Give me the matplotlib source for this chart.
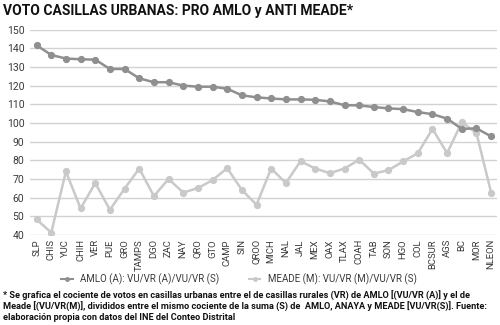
import matplotlib
matplotlib.use("Agg")
import matplotlib.pyplot as plt
from matplotlib.lines import Line2D

states = ["SLP", "CHIS", "YUC", "CHIH", "VER", "PUE", "GRO", "TAMPS", "DGO", "ZAC",
          "NAY", "QRO", "GTO", "CAMP", "SIN", "QROO", "MICH", "NAL", "JAL", "MEX",
          "OAX", "TLAX", "COAH", "TAB", "SON", "HGO", "COL", "BCSUR", "AGS", "BC",
          "MOR", "NLEON"]

amlo = [141.6, 136.4, 134.5, 134.1, 133.9, 128.9, 128.9, 123.9, 121.8, 121.8,
        120.0, 119.4, 119.4, 118.3, 114.8, 113.7, 113.1, 112.6, 112.6, 112.4,
        111.5, 109.5, 109.4, 108.5, 107.8, 107.4, 105.8, 104.7, 102.3, 96.8,
        97.1, 92.8]
meade = [48.3, 41.3, 74.0, 54.2, 67.8, 53.5, 64.8, 75.6, 60.8, 70.0,
         62.7, 65.1, 69.4, 75.8, 64.1, 56.2, 75.6, 67.8, 79.5, 75.6,
         73.1, 75.6, 80.3, 72.9, 74.7, 79.4, 83.8, 96.8, 83.8, 100.4,
         94.5, 62.7]

yticks = [40, 50, 60, 70, 80, 90, 100, 110, 120, 130, 140, 150]

title = "VOTO CASILLAS URBANAS: PRO AMLO y ANTI MEADE*"
label_amlo = "AMLO (A): VU/VR (A)/VU/VR (S)"
label_meade = "MEADE (M): VU/VR (M)/VU/VR (S)"
footnote = ("* Se grafica el cociente de votos en casillas urbanas entre el de casillas rurales (VR) de AMLO [(VU/VR (A)] y el de\n"
            "Meade [(VU/VR(M)], divididos entre el mismo cociente de la suma (S) de  AMLO, ANAYA y MEADE [VU/VR(S)]. Fuente:\n"
            "elaboración propia con datos del INE del Conteo Distrital")

plt.rcParams['font.family'] = ["Roboto", "DejaVu Sans"]

c_amlo = "#8f8f8f"
c_meade = "#c9c9c9"
grid_c = "#d2d2d2"
txt_c = "#3a3a3a"

fig = plt.figure(figsize=(5.0, 3.25), dpi=100)
ax = fig.add_axes([0.06, 0.277, 0.934, 0.632])

n = len(states)
x = list(range(n))
ax.plot(x, amlo, color=c_amlo, lw=1.8, marker="o", ms=4.2, zorder=3)
ax.plot(x, meade, color=c_meade, lw=1.8, marker="o", ms=4.2, zorder=2)

ax.set_ylim(40, 150)
ax.set_xlim(-0.45, n - 1 + 0.4)
ax.set_yticks(yticks)
ax.set_xticks(x)
ax.set_xticklabels(states, rotation=90, fontsize=6.8, color=txt_c)
ax.tick_params(axis="y", labelsize=7.5, colors=txt_c, length=0, pad=4)
ax.tick_params(axis="x", length=0, pad=3)
for s in ax.spines.values():
    s.set_visible(False)
ax.grid(axis="y", color=grid_c, lw=1.0)
ax.set_axisbelow(True)

fig.text(0.006, 0.966, title, fontsize=10, fontweight="bold",
         va="center", ha="left", color="#111111")

handles = [Line2D([0], [0], color=c_amlo, lw=1.5, marker="o", ms=2.5),
           Line2D([0], [0], color=c_meade, lw=1.5, marker="o", ms=2.5)]
fig.legend(handles, [label_amlo, label_meade], loc="center", ncol=2,
           bbox_to_anchor=(0.478, 1 - 279 / 325), frameon=False,
           handlelength=1.2, columnspacing=3.0, prop={'size': 7},
           labelcolor=txt_c)

fig.text(0.006, 1 - 291 / 325, footnote, fontsize=6.6, fontweight="bold",
         va="top", ha="left", color="#111111", linespacing=1.15)

fig.savefig("out.png", dpi=100)
